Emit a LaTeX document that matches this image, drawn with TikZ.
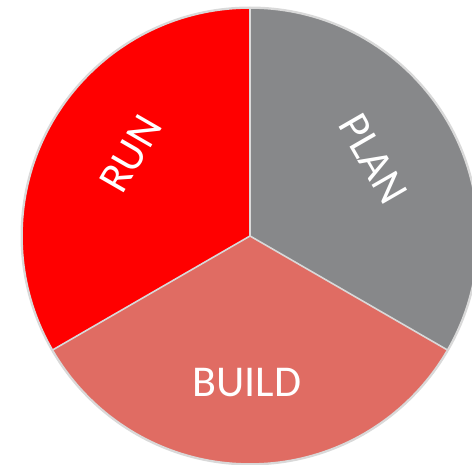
\documentclass[tikz,border=0pt]{standalone}
\usepackage{fontspec}
\setmainfont{Carlito}
\definecolor{runred}{HTML}{FF0000}
\definecolor{plangray}{HTML}{87888A}
\definecolor{buildred}{HTML}{E06C63}
\definecolor{edgegray}{HTML}{D9D9D9}
\begin{document}
\begin{tikzpicture}[x=1pt,y=1pt,
  sector/.style={draw=edgegray,line width=1.6pt,line join=round},
  label/.style={text=white,font=\fontsize{44}{44}\selectfont,inner sep=0pt}]
\useasboundingbox (0,0) rectangle (472,-465);
\coordinate (c) at (250,-236);
\fill[black!15] (c) circle (229.5);
\fill[runred] (c) -- ++(90:228) arc (90:210:228) -- cycle;
\fill[plangray] (c) -- ++(-30:228) arc (-30:90:228) -- cycle;
\fill[buildred] (c) -- ++(210:228) arc (210:330:228) -- cycle;
\draw[sector] (c) circle (228);
\draw[sector] (c) -- ++(90:228);
\draw[sector] (c) -- ++(210:228);
\draw[sector] (c) -- ++(-30:228);
\node[label,rotate=60] (run) at (131,-154) {RUN};
\node[label,rotate=-60] (plan) at (373,-159) {PLAN};
\node[label] (build) at (247,-383) {BUILD};
\end{tikzpicture}
\end{document}
